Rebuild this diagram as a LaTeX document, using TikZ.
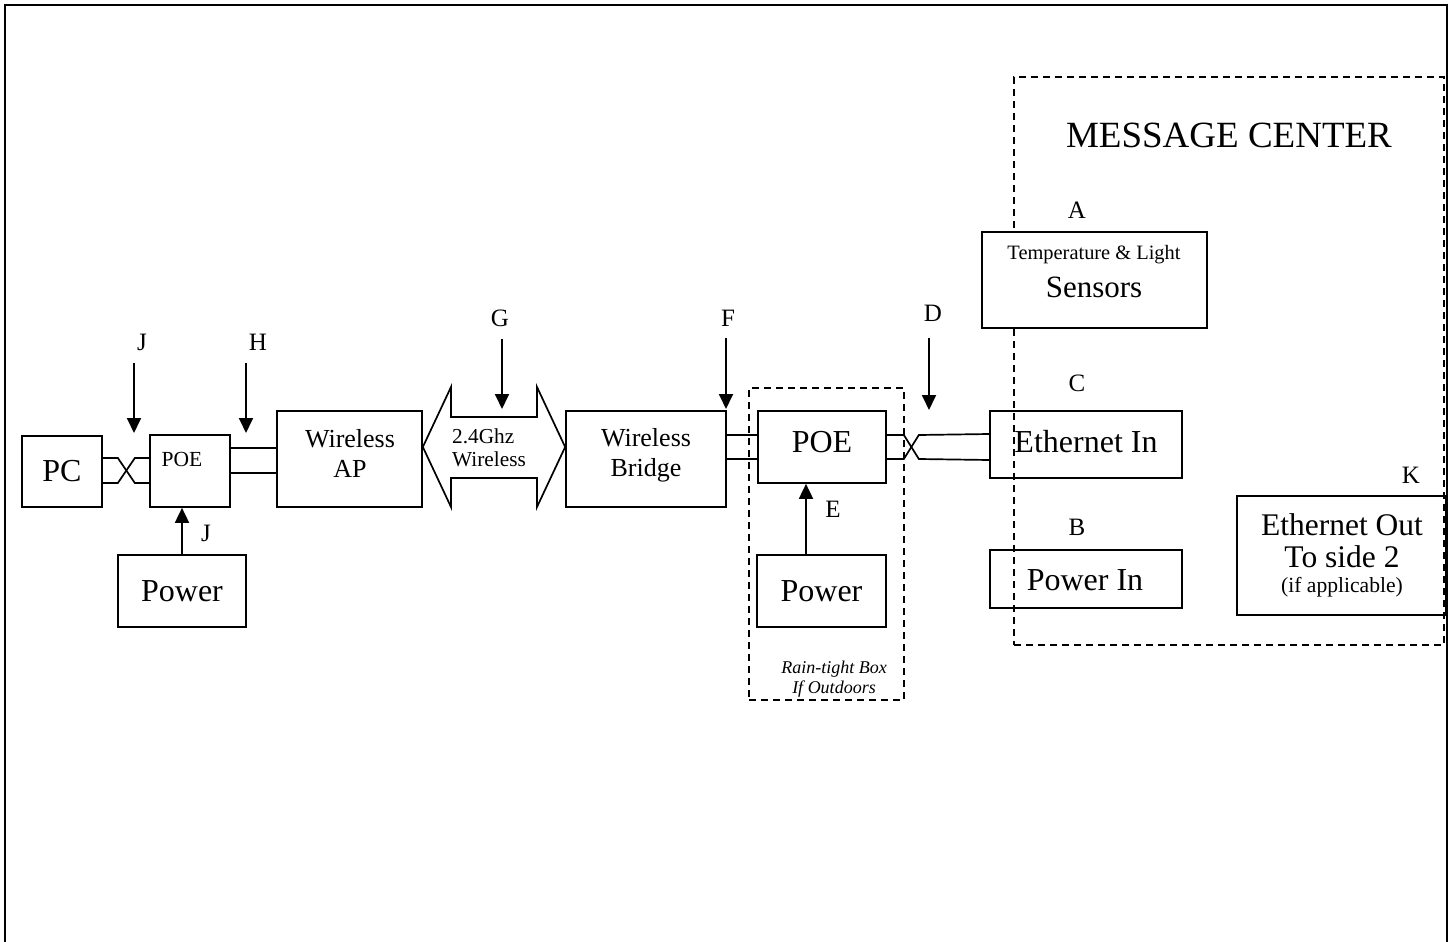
\documentclass[tikz,border=0pt]{standalone}
\usepackage{fontspec}
\setmainfont{Liberation Serif}
\usetikzlibrary{arrows.meta,calc}
\newcommand{\fsz}[1]{\fontsize{#1}{#1}\selectfont}
\tikzset{
  frameline/.style={line width=2.2pt},
  blk/.style={draw, line width=1.7pt, inner sep=0pt},
  dbox/.style={draw, line width=1.6pt, dash pattern=on 7pt off 5pt, inner sep=0pt},
  cable/.style={line width=1.7pt},
  ptr/.style={line width=1.8pt, -{Triangle[width=14pt,length=15pt]}},
  lbl/.style={inner sep=0pt, font=\fsz{25}},
  txt/.style={inner sep=0pt},
}
\begin{document}
\begin{tikzpicture}[x=1pt,y=-1pt]
\useasboundingbox (0,0) rectangle (1452,942);
\fill[white] (0,0) rectangle (1452,942);
% outer frame (open at the bottom)
\draw[frameline] (5,942) -- (5,5) -- (1447,5) -- (1447,942);

% dashed groups
\node[dbox, minimum width=430pt, minimum height=568pt] (mc) at (1229,361) {};
\node[dbox, minimum width=155pt, minimum height=312pt] (rain) at (826.5,544) {};

% boxes
\node[blk, minimum width=80pt, minimum height=71pt, font=\fsz{32}] (pc) at (62,471.5) {PC};
\node[blk, minimum width=80pt, minimum height=72pt] (poe1) at (190,471) {};
\node[txt, font=\fsz{21.5}] (poe1t) at (182,459) {POE};
\node[blk, minimum width=128pt, minimum height=72pt, font=\fsz{32}] (pw1) at (182,591) {Power};
\node[blk, minimum width=145pt, minimum height=96pt] (ap) at (349.5,459) {};
\node[txt, font=\fontsize{26}{30}\selectfont, align=center] (apt) at (350,453) {Wireless\\AP};
\node[blk, minimum width=160pt, minimum height=96pt] (br) at (646,459) {};
\node[txt, font=\fontsize{26}{30}\selectfont, align=center] (brt) at (646,455) {Wireless\\Bridge};
\node[blk, minimum width=128pt, minimum height=72pt] (poe2) at (822,447) {};
\node[txt, font=\fsz{32}] (poe2t) at (822,442) {POE};
\node[blk, minimum width=129pt, minimum height=72pt, font=\fsz{32}] (pw2) at (821.5,591) {Power};
\node[blk, minimum width=192pt, minimum height=67pt] (ein) at (1086,444.5) {};
\node[txt, font=\fsz{32}] (eint) at (1086,442) {Ethernet In};
\node[blk, minimum width=192pt, minimum height=58pt] (pin) at (1086,579) {};
\node[txt, font=\fsz{32}] (pint) at (1085,580) {Power In};
\node[blk, fill=white, minimum width=225pt, minimum height=96pt] (sens) at (1094.5,280) {};
\node[txt, font=\fsz{20.4}] (sens1) at (1094,255) {Temperature \& Light};
\node[txt, font=\fsz{31}] (sens2) at (1094,287) {Sensors};
\node[blk, minimum width=209pt, minimum height=119pt] (eout) at (1341.5,555.5) {};
\node[txt, font=\fsz{31.5}] (eout1) at (1342,525) {Ethernet Out};
\node[txt, font=\fsz{31.5}] (eout2) at (1342,557) {To side 2};
\node[txt, font=\fsz{21.6}] (eout3) at (1342,587) {(if applicable)};

% titles and notes
\node[txt, font=\fsz{37}] (mct) at (1229,135) {MESSAGE CENTER};
\node[txt, font=\itshape\fontsize{18}{20}\selectfont, align=center] (raint) at (834,679) {Rain-tight Box\\If Outdoors};

% wireless double arrow
\draw[line width=1.7pt, line join=miter] (ap.east |- 0,447) coordinate (wl) -- (451,387) -- (451,417) -- (537,417) -- (537,387) -- (br.west |- 0,447) coordinate (wr) -- (537,507) -- (537,478) -- (451,478) -- (451,507) -- cycle;
\node[txt, font=\fontsize{21.3}{23}\selectfont, align=left, anchor=west] (wt) at (452,448) {2.4Ghz\\Wireless};

% cables
\draw[cable] ($(pc.east)+(0,-13.5)$) -- ++(15,0) -- ++(17,25) coordinate (x1) -- (x1 -| poe1.west);
\draw[cable] ($(pc.east)+(0,11.5)$) -- ++(15,0) -- ++(17,-25) coordinate (x2) -- (x2 -| poe1.west);
\draw[cable] ($(poe1.east)+(0,-23)$) coordinate (h1) -- (h1 -| ap.west);
\draw[cable] ($(poe1.east)+(0,2)$) coordinate (h2) -- (h2 -| ap.west);
\draw[cable] ($(br.east)+(0,-24)$) coordinate (f1) -- (f1 -| poe2.west);
\draw[cable] (br.east) -- (br.east -| poe2.west);
\draw[cable] ($(poe2.east)+(0,-12)$) -- ++(17,0) -- ++(15,24) -- ($(ein.west)+(0,15.5)$);
\draw[cable] ($(poe2.east)+(0,12)$) -- ++(17,0) -- ++(15,-24) -- ($(ein.west)+(0,-10.5)$);

% pointer arrows
\coordinate (j0) at (134,363); \coordinate (j1) at (134,433);
\coordinate (h0) at (246,363); \coordinate (h1e) at (246,433);
\coordinate (g0) at (502,339); \coordinate (g1) at (502,409);
\coordinate (f0) at (726,338); \coordinate (f1e) at (726,409);
\coordinate (d0) at (929,338); \coordinate (d1) at (929,410);
\draw[ptr] (j0) -- (j1);
\draw[ptr] (h0) -- (h1e);
\draw[ptr] (g0) -- (g1);
\draw[ptr] (f0) -- (f1e);
\draw[ptr] (d0) -- (d1);
\draw[ptr] (pw1.north) -- (pw1.north |- poe1.south);
\draw[ptr] ($(pw2.north)+(-15.5,0)$) coordinate (e0) -- (e0 |- poe2.south);

% letter labels
\node[lbl] (lj) at (142,342) {J};
\node[lbl] (lh) at (258,342) {H};
\node[lbl] (lg) at (500,318) {G};
\node[lbl] (lf) at (728,318) {F};
\node[lbl] (ld) at (933,313) {D};
\node[lbl] (lj2) at (206,533) {J};
\node[lbl] (le) at (833,509) {E};
\node[lbl] (la) at (1077,210) {A};
\node[lbl] (lc) at (1077,383) {C};
\node[lbl] (lb) at (1077,527) {B};
\node[lbl] (lk) at (1411,475) {K};
\end{tikzpicture}
\end{document}
